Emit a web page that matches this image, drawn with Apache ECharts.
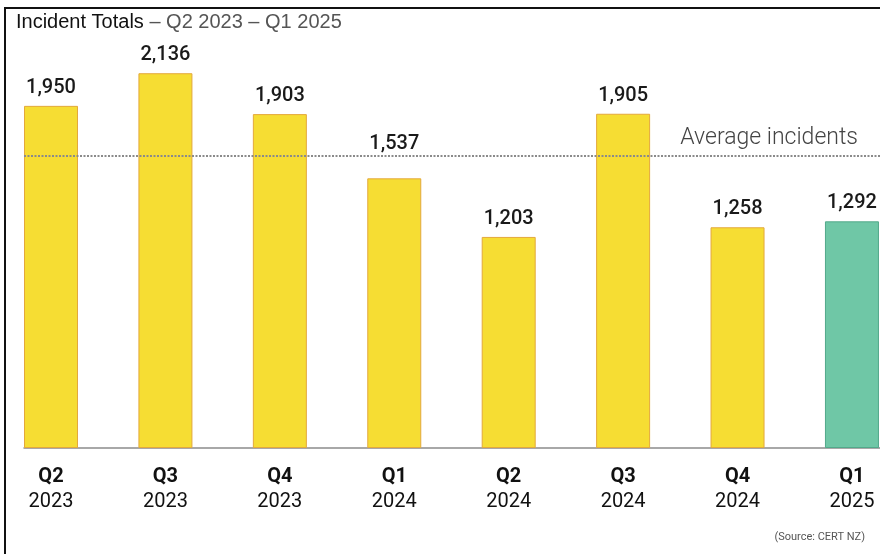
<!DOCTYPE html>
<html>
<head>
<meta charset="utf-8">
<title>Incident Totals</title>
<script src="https://cdn.jsdelivr.net/npm/echarts@6/dist/echarts.min.js"></script>
<style>
  html, body { margin: 0; padding: 0; background: #fff; }
  #chart { position: absolute; left: 0; top: 0; width: 880px; height: 554px; }
  #frame {
    position: absolute; left: 4px; top: 7px; width: 900px; height: 600px;
    border-left: 2px solid #111; border-top: 2px solid #111;
    pointer-events: none;
  }
</style>
</head>
<body>
<div id="chart"></div>
<div id="frame"></div>
<script>
// Quarterly incident totals reported to CERT NZ
const quarters = ['Q2', 'Q3', 'Q4', 'Q1', 'Q2', 'Q3', 'Q4', 'Q1'];
const years = ['2023', '2023', '2023', '2024', '2024', '2024', '2024', '2025'];
const incidents = [1950, 2136, 1903, 1537, 1203, 1905, 1258, 1292];
const averageIncidents = 1665;
const latestIndex = 7;

const yellow = { color: '#F6DD33', borderColor: '#E3A83C', borderWidth: 1 };
const green = { color: '#6FC7A6', borderColor: '#52A98A', borderWidth: 1 };

// value units taken up by a data label above its bar
const labelReach = 170;

const barData = incidents.map((v, i) => {
  const item = { value: [i, v], itemStyle: i === latestIndex ? green : yellow };
  // lift a label that would otherwise sit across the average line
  if (v < averageIncidents && v + labelReach > averageIncidents) {
    item.label = { offset: [0, -16] };
  }
  return item;
});

const chart = echarts.init(document.getElementById('chart'));
chart.setOption({
  animation: false,
  backgroundColor: '#fff',
  title: [
    {
      left: 16, top: 12, padding: 0,
      text: '{a|Incident Totals}{b| – Q2 2023 – Q1 2025}',
      textStyle: {
        fontWeight: 'normal',
        rich: {
          a: { fontFamily: 'Liberation Sans', fontSize: 20, fontWeight: 'normal', color: '#111' },
          b: { fontFamily: 'Liberation Sans', fontSize: 20, fontWeight: 'normal', color: '#555' }
        }
      }
    },
    {
      right: 15, top: 532, padding: 0,
      text: '(Source: CERT NZ)',
      textStyle: { fontFamily: 'Roboto', fontSize: 11, fontWeight: 'normal', color: '#555' }
    }
  ],
  grid: { left: 24, right: 0, top: 62, bottom: 106 },
  xAxis: {
    type: 'value',
    min: -0.236,
    max: 7.245,
    splitLine: { show: false },
    axisTick: { show: false },
    axisLine: { show: true, lineStyle: { color: '#8c8c8c', width: 1.5 } },
    axisLabel: {
      customValues: quarters.map((_, i) => i),
      margin: 16,
      formatter: (v) => {
        const i = Math.round(v);
        return '{q|' + quarters[i] + '}\n{y|' + years[i] + '}';
      },
      rich: {
        q: { fontFamily: 'Roboto', fontSize: 20, fontWeight: 'bold', color: '#111', lineHeight: 25, align: 'center' },
        y: { fontFamily: 'Roboto', fontSize: 20, color: '#111', lineHeight: 25, align: 'center' }
      }
    }
  },
  yAxis: {
    type: 'value',
    min: 0,
    max: 2200,
    show: false,
    splitLine: { show: false }
  },
  series: [
    {
      type: 'bar',
      barWidth: 54,
      data: barData,
      label: {
        show: true,
        position: 'top',
        distance: 8,
        fontFamily: 'Roboto',
        fontSize: 20,
        fontWeight: 500,
        color: '#1a1a1a',
        formatter: (p) => p.value[1].toLocaleString('en-US')
      },
      markLine: {
        silent: true,
        symbol: 'none',
        lineStyle: { color: '#8a8a8a', width: 2, type: [2, 1.5] },
        label: {
          show: true,
          position: 'insideEndTop',
          distance: [22, 6],
          formatter: 'Average incidents',
          fontFamily: 'Roboto',
          fontSize: 23,
          fontWeight: 300,
          color: '#444'
        },
        data: [{ yAxis: averageIncidents }]
      }
    }
  ]
});
</script>
</body>
</html>
